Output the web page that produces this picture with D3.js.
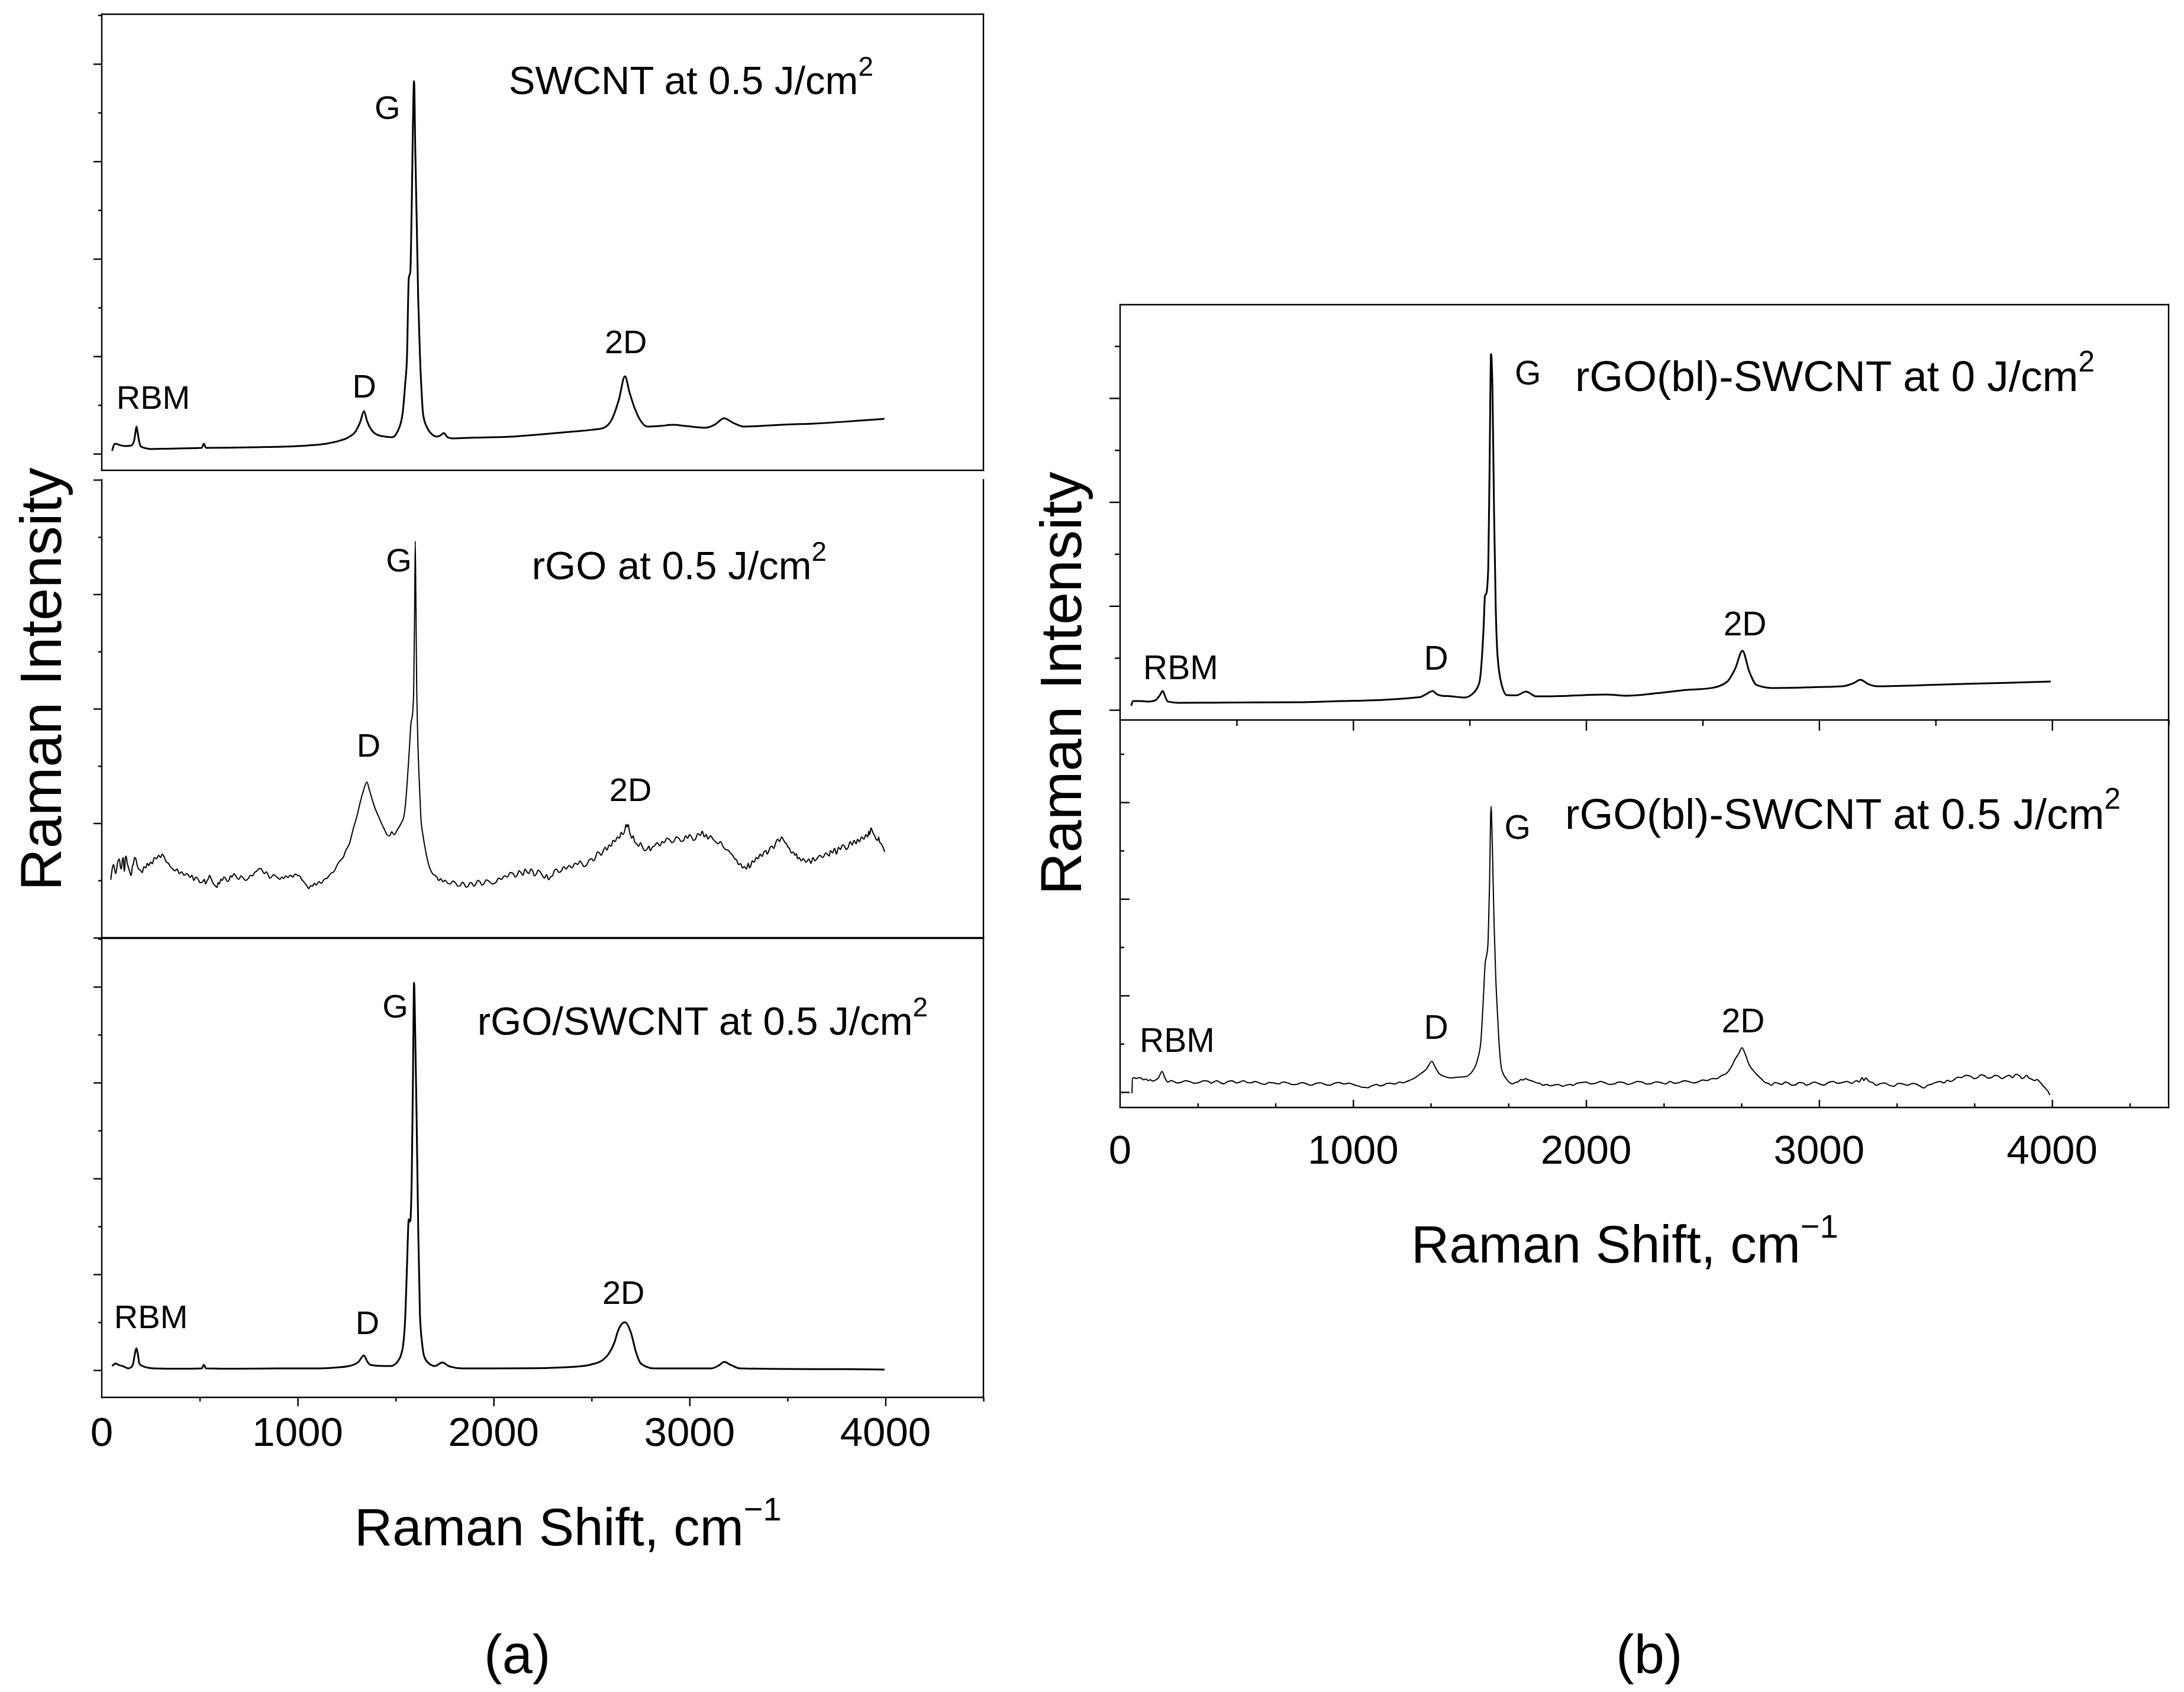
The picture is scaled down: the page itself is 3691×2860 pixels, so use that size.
<!DOCTYPE html>
<html>
<head>
<meta charset="utf-8">
<script src="https://cdn.jsdelivr.net/npm/d3@7"></script>
<style>
  body { margin: 0; background: #fff; }
  svg { display: block; }
  text { font-family: "Liberation Sans", Arial, sans-serif; fill: #000; }
</style>
</head>
<body>
<svg id="chart"></svg>
<script>
const W = 3691, H = 2860;

// spectra: [Raman shift (cm-1), intensity (a.u.)]
const swcnt = [[53,30],[60,80],[69,103],[90,90],[118,79],[151,85],[165,134],[172,220],[177,279],[183,220],[190,134],[200,73],[250,49],[330,52],[400,55],[510,61],[521,103],[532,61],[650,62],[789,67],[900,72],[1051,85],[1150,105],[1214,134],[1260,170],[1296,231],[1320,330],[1338,437],[1355,330],[1377,243],[1400,200],[1428,182],[1482,170],[1510,230],[1535,407],[1548,700],[1558,1008],[1567,1803],[1575,1864],[1581,2434],[1594,3824],[1600,3138],[1607,2434],[1615,1600],[1624,1008],[1632,650],[1640,407],[1660,270],[1679,212],[1710,176],[1730,190],[1745,212],[1765,170],[1787,158],[1900,165],[2098,176],[2250,200],[2424,231],[2500,245],[2555,261],[2600,340],[2640,560],[2670,795],[2695,620],[2720,467],[2750,340],[2784,279],[2850,285],[2917,297],[2980,285],[3080,267],[3130,300],[3176,364],[3220,320],[3276,279],[3400,290],[3500,300],[3635,310],[3800,330],[3900,345],[3995,358]];

const rgo = [[46,506],[53,600],[60,640],[66,590],[72,560],[80,650],[90,687],[95,620],[100,600],[105,680],[110,700],[113,610],[116,579],[120,690],[124,713],[130,650],[135,620],[142,580],[150,543],[156,620],[162,650],[168,700],[175,682],[181,630],[188,600],[197,590],[206,568],[215,620],[225,610],[232,650],[240,630],[249,660],[258,646],[268,700],[280,690],[290,720],[300,700],[308,730],[315,718],[322,690],[330,660],[340,650],[350,620],[362,600],[374,584],[385,600],[395,560],[408,575],[420,545],[435,560],[451,527],[460,545],[470,500],[480,530],[490,515],[503,480],[516,491],[523,510],[530,470],[538,500],[545,520],[550,545],[554,532],[562,500],[570,470],[579,455],[588,439],[594,480],[600,470],[608,510],[615,500],[623,530],[632,517],[641,490],[650,505],[657,540],[665,530],[674,560],[683,543],[691,520],[700,510],[710,540],[720,525],[734,500],[748,517],[759,545],[770,540],[780,570],[790,580],[800,600],[812,605],[821,580],[830,560],[840,575],[850,545],[857,520],[864,527],[877,550],[890,535],[900,520],[910,510],[919,530],[928,517],[939,540],[950,525],[962,545],[975,530],[987,555],[1000,545],[1011,537],[1020,510],[1030,490],[1044,460],[1057,429],[1066,455],[1075,450],[1085,475],[1095,460],[1108,490],[1121,475],[1135,510],[1150,520],[1168,560],[1186,579],[1203,640],[1220,680],[1232,700],[1245,760],[1263,817],[1285,960],[1302,1059],[1320,1190],[1335,1282],[1353,1359],[1366,1290],[1379,1214],[1395,1130],[1413,1059],[1430,990],[1444,941],[1456,900],[1469,889],[1480,925],[1492,900],[1508,941],[1525,990],[1542,1059],[1552,1200],[1560,1385],[1570,1650],[1578,1871],[1586,1950],[1592,2150],[1597,2900],[1600,3463],[1603,3000],[1607,2248],[1612,1800],[1618,1473],[1624,1230],[1629,1044],[1640,890],[1650,786],[1665,660],[1689,558],[1700,545],[1710,530],[1720,500],[1730,515],[1741,490],[1753,501],[1766,475],[1780,470],[1792,495],[1805,480],[1818,450],[1830,455],[1840,485],[1850,470],[1860,440],[1870,450],[1880,480],[1890,475],[1899,450],[1908,465],[1919,500],[1930,490],[1940,460],[1950,470],[1962,505],[1975,495],[1993,470],[2011,481],[2025,520],[2040,510],[2055,540],[2070,530],[2085,570],[2100,560],[2110,530],[2120,545],[2130,585],[2140,568],[2150,545],[2160,600],[2170,575],[2180,560],[2190,600],[2200,580],[2208,540],[2217,553],[2228,590],[2240,570],[2250,540],[2260,520],[2270,550],[2281,506],[2290,530],[2300,540],[2310,585],[2320,600],[2333,570],[2346,584],[2358,620],[2370,600],[2385,630],[2400,610],[2415,650],[2430,640],[2440,670],[2450,650],[2462,620],[2475,636],[2488,680],[2500,690],[2510,670],[2520,700],[2530,750],[2540,740],[2550,720],[2560,760],[2569,790],[2578,765],[2590,810],[2600,800],[2610,850],[2620,840],[2632,880],[2642,868],[2651,920],[2660,900],[2670,940],[2676,990],[2681,966],[2687,990],[2692,940],[2698,900],[2705,870],[2712,890],[2720,837],[2730,820],[2740,800],[2750,830],[2760,790],[2772,760],[2784,775],[2792,800],[2800,760],[2810,790],[2820,800],[2835,830],[2849,801],[2860,840],[2870,830],[2885,870],[2900,853],[2910,830],[2920,840],[2932,880],[2945,870],[2958,840],[2970,850],[2980,890],[2990,868],[3000,900],[3010,880],[3020,850],[3030,860],[3042,910],[3055,894],[3065,930],[3075,880],[3085,900],[3094,863],[3107,890],[3120,860],[3132,840],[3145,820],[3158,840],[3170,800],[3184,770],[3197,765],[3208,740],[3220,720],[3230,690],[3240,680],[3250,640],[3261,646],[3270,610],[3280,620],[3290,600],[3300,650],[3306,610],[3313,630],[3320,670],[3330,660],[3340,700],[3350,690],[3360,730],[3370,710],[3380,750],[3390,760],[3396,730],[3403,749],[3412,790],[3420,800],[3430,780],[3440,830],[3450,860],[3460,840],[3470,880],[3480,853],[3488,830],[3495,820],[3503,790],[3510,780],[3520,740],[3530,750],[3538,720],[3545,734],[3552,690],[3560,700],[3570,670],[3580,690],[3595,660],[3609,687],[3620,650],[3630,700],[3640,670],[3650,690],[3665,720],[3680,700],[3696,740],[3712,713],[3720,760],[3730,740],[3740,780],[3750,730],[3760,790],[3770,770],[3780,810],[3790,801],[3800,770],[3810,790],[3820,840],[3830,810],[3840,850],[3850,820],[3858,860],[3867,837],[3878,880],[3890,860],[3900,900],[3910,880],[3915,930],[3920,900],[3926,960],[3931,941],[3938,910],[3945,890],[3952,860],[3960,850],[3965,880],[3970,837],[3978,820],[3985,800],[3990,780],[3996,749]];

const rgoSwcnt = [[53,43],[70,70],[85,56],[110,40],[135,19],[150,30],[160,68],[170,180],[177,228],[184,170],[192,68],[207,43],[265,19],[400,15],[510,19],[521,56],[532,19],[700,15],[900,18],[1116,19],[1200,28],[1262,43],[1310,86],[1338,154],[1355,90],[1371,56],[1420,45],[1476,43],[1510,90],[1535,222],[1550,600],[1558,1093],[1567,1574],[1574,1550],[1582,2000],[1588,3000],[1594,4043],[1600,3494],[1607,2624],[1615,1500],[1624,580],[1635,280],[1646,142],[1670,70],[1700,43],[1739,80],[1770,43],[1836,19],[2000,18],[2200,20],[2424,37],[2500,60],[2560,110],[2588,173],[2615,280],[2638,426],[2670,500],[2703,377],[2725,200],[2752,68],[2817,19],[3000,18],[3112,19],[3150,50],[3177,86],[3210,55],[3258,19],[3500,12],[3800,10],[3995,6]];

const blend0 = [[48,40],[55,85],[90,85],[120,80],[150,91],[170,140],[183,182],[195,120],[205,80],[250,68],[400,70],[600,72],[764,74],[950,85],[1130,97],[1250,115],[1290,125],[1320,160],[1341,182],[1360,150],[1380,137],[1420,131],[1478,119],[1510,150],[1541,256],[1560,791],[1566,1100],[1572,1121],[1580,1366],[1586,2400],[1592,3425],[1598,3100],[1605,1895],[1612,1000],[1620,518],[1638,239],[1660,142],[1700,140],[1742,176],[1785,131],[1831,131],[2087,148],[2176,137],[2300,160],[2410,188],[2539,211],[2603,267],[2640,398],[2671,569],[2700,370],[2732,239],[2796,211],[3000,220],[3100,228],[3150,260],[3177,290],[3210,250],[3247,228],[3537,245],[3800,260],[3994,273]];

const blend05 = [[51,-12],[53,141],[60,150],[70,141],[80,150],[90,145],[100,128],[110,135],[120,120],[130,128],[140,115],[150,122],[165,150],[180,214],[192,150],[205,104],[218,120],[230,110],[245,95],[260,100],[280,118],[300,108],[320,92],[340,100],[360,118],[380,110],[390,92],[400,104],[415,118],[430,98],[445,86],[460,108],[480,118],[500,95],[515,105],[530,118],[545,100],[560,96],[580,110],[600,92],[620,80],[640,100],[660,95],[680,86],[700,104],[720,95],[740,78],[760,82],[780,98],[800,86],[820,70],[840,90],[860,96],[880,78],[900,70],[920,92],[940,100],[960,84],[980,92],[1000,80],[1012,70],[1025,62],[1038,50],[1050,49],[1062,45],[1075,60],[1088,72],[1100,80],[1115,65],[1130,72],[1145,90],[1160,92],[1180,84],[1200,104],[1215,96],[1230,110],[1245,125],[1260,140],[1275,165],[1290,190],[1315,240],[1338,318],[1350,270],[1370,190],[1395,160],[1420,147],[1450,155],[1480,159],[1510,210],[1534,337],[1548,520],[1560,1017],[1567,1341],[1572,1400],[1578,1506],[1585,2100],[1592,2958],[1598,2500],[1605,1751],[1612,1200],[1620,796],[1628,450],[1638,233],[1660,130],[1684,86],[1697,100],[1710,110],[1720,130],[1730,125],[1740,140],[1750,129],[1762,120],[1775,110],[1788,96],[1800,92],[1815,70],[1830,80],[1845,66],[1860,72],[1880,80],[1900,61],[1915,72],[1930,80],[1945,70],[1960,92],[1980,100],[2000,104],[2020,86],[2040,90],[2060,110],[2080,98],[2100,80],[2120,84],[2140,104],[2160,100],[2180,80],[2200,92],[2220,110],[2240,104],[2260,84],[2280,88],[2300,106],[2320,100],[2340,84],[2360,110],[2380,92],[2400,98],[2420,118],[2440,110],[2460,95],[2480,104],[2500,125],[2520,120],[2540,140],[2560,140],[2580,170],[2603,196],[2625,270],[2640,343],[2655,400],[2669,459],[2685,380],[2700,282],[2715,230],[2732,184],[2755,130],[2768,100],[2781,92],[2795,70],[2810,100],[2825,90],[2840,80],[2855,104],[2870,92],[2885,70],[2900,78],[2915,100],[2930,96],[2945,72],[2960,84],[2980,104],[3000,86],[3020,72],[3040,100],[3060,110],[3080,92],[3100,100],[3120,110],[3140,90],[3160,120],[3172,105],[3185,150],[3192,120],[3200,147],[3215,110],[3230,100],[3245,70],[3260,86],[3280,95],[3300,73],[3320,60],[3340,90],[3360,84],[3380,70],[3400,90],[3420,80],[3435,60],[3450,43],[3465,70],[3480,80],[3500,100],[3520,110],[3535,95],[3550,122],[3565,110],[3580,130],[3595,155],[3610,150],[3630,175],[3650,165],[3665,140],[3680,150],[3695,180],[3710,170],[3725,145],[3740,150],[3755,175],[3770,165],[3785,140],[3800,159],[3815,175],[3830,150],[3845,185],[3860,170],[3870,140],[3880,150],[3890,175],[3900,147],[3912,135],[3925,120],[3935,130],[3945,110],[3953,90],[3960,67],[3968,50],[3975,30],[3982,10],[3990,-31]];

const sampleNames = ["SWCNT at 0.5 J/cm", "rGO at 0.5 J/cm", "rGO/SWCNT at 0.5 J/cm",
                     "rGO(bl)-SWCNT at 0 J/cm", "rGO(bl)-SWCNT at 0.5 J/cm"];
const peakNames = ["RBM", "D", "G", "2D"];
const xTickLabels = [0, 1000, 2000, 3000, 4000];

const svg = d3.select("#chart").attr("width", W).attr("height", H);
svg.append("rect").attr("width", W).attr("height", H).attr("fill", "#fff");

// layout of the five stacked frames
const panels = [
  { data: swcnt, title: 0, xr: [172, 1662], yr: [795, 24], yDomain: [-170, 4510],
    frame: ["top", "right", "bottom", "left"], yIn: false, yLen: [14, 6], lw: 3,
    titleAt: [2077, 3691], titleSize: 67, peakSize: 56,
    peaks: { RBM: [75, 461], D: [1340, 577], G: [1458, 3436], "2D": [2675, 1032] } },
  { data: rgo, title: 1, xr: [172, 1662], yr: [1585, 811], yDomain: [0, 4000],
    frame: ["right", "bottom", "left"], yIn: false, yLen: [14, 6], lw: 2,
    titleAt: [2195, 3132], titleSize: 67, peakSize: 56,
    peaks: { D: [1362, 1581], G: [1516, 3199], "2D": [2699, 1194] } },
  { data: rgoSwcnt, title: 2, xr: [172, 1662], yr: [2362, 1586], yDomain: [-284, 4506],
    frame: ["top", "right", "bottom", "left"], yIn: false, yLen: [14, 6], lw: 3,
    titleAt: [1917, 3500], titleSize: 67, peakSize: 56,
    peaks: { RBM: [63, 438], D: [1356, 377], G: [1498, 3679], "2D": [2663, 691] },
    xt: { inward: false, step: 500, len: [15, 7], labelGap: 82 } },
  { data: blend0, title: 3, xr: [1893, 3665], yr: [1217, 515], yDomain: [-97, 3899],
    frame: ["top", "right", "bottom", "left"], yIn: false, yLen: [18, 9], lw: 3,
    titleAt: [1953, 3067], titleSize: 73, peakSize: 57,
    peaks: { RBM: [99, 296], D: [1356, 387], G: [1750, 3130], "2D": [2682, 717] },
    xt: { inward: false, step: 500, len: [18, 10], labelGap: null } },
  { data: blend05, title: 4, xr: [1893, 3665], yr: [1872, 1217], yDomain: [-159, 3852],
    frame: ["right", "bottom", "left"], yIn: true, yLen: [16, 7], lw: 2,
    titleAt: [1910, 2725], titleSize: 73, peakSize: 57,
    peaks: { RBM: [84, 416], D: [1356, 551], G: [1706, 2621], "2D": [2674, 619] },
    xt: { inward: true, step: 1000 / 3, len: [13, 7], labelGap: 95 } }
];

const isMajor = v => Math.abs(v / 1000 - Math.round(v / 1000)) < 1e-6;

function drawPanel(p) {
  const x = d3.scaleLinear().domain([0, 4500]).range(p.xr);
  const y = d3.scaleLinear().domain(p.yDomain).range(p.yr);
  const g = svg.append("g");

  const sides = {
    top: [p.xr[0], p.yr[1], p.xr[1], p.yr[1]],
    bottom: [p.xr[0], p.yr[0], p.xr[1], p.yr[0]],
    left: [p.xr[0], p.yr[1], p.xr[0], p.yr[0]],
    right: [p.xr[1], p.yr[1], p.xr[1], p.yr[0]]
  };
  p.frame.forEach(s => {
    const [x1, y1, x2, y2] = sides[s];
    g.append("line").attr("x1", x1).attr("y1", y1).attr("x2", x2).attr("y2", y2)
      .attr("stroke", "#000").attr("stroke-width", 2.4).attr("stroke-linecap", "square");
  });

  // y ticks (no labels)
  const yVals = d3.range(0, p.yDomain[1] + 1, 500);
  [true, false].forEach(major => {
    const vals = yVals.filter(v => isMajor(v) === major);
    const ax = (p.yIn ? d3.axisRight(y) : d3.axisLeft(y))
      .tickValues(vals).tickSize(major ? p.yLen[0] : p.yLen[1]).tickFormat("");
    g.append("g").attr("transform", `translate(${p.xr[0]},0)`).call(ax)
      .call(s => s.select(".domain").remove())
      .selectAll("line").attr("stroke", "#000").attr("stroke-width", 2.4);
  });

  // x ticks
  if (p.xt) {
    const n = Math.floor(4500 / p.xt.step + 1e-6);
    const xVals = d3.range(1, n + 1).map(i => i * p.xt.step);
    [true, false].forEach(major => {
      const vals = xVals.filter(v => isMajor(v) === major);
      const ax = (p.xt.inward ? d3.axisTop(x) : d3.axisBottom(x))
        .tickValues(vals).tickSize(major ? p.xt.len[0] : p.xt.len[1]).tickFormat("");
      g.append("g").attr("transform", `translate(0,${p.yr[0]})`).call(ax)
        .call(s => s.select(".domain").remove())
        .selectAll("line").attr("stroke", "#000").attr("stroke-width", 2.4);
    });
    if (p.xt.labelGap) {
      g.selectAll(null).data(xTickLabels).join("text")
        .attr("x", d => x(d)).attr("y", p.yr[0] + p.xt.labelGap)
        .attr("text-anchor", "middle").attr("font-size", 69).text(d => d);
    }
  }

  const line = d3.line().x(d => x(d[0])).y(d => y(d[1])).curve(d3.curveMonotoneX);
  g.append("path").datum(p.data).attr("d", line)
    .attr("fill", "none").attr("stroke", "#000").attr("stroke-width", p.lw)
    .attr("stroke-linejoin", "round");

  // sample name with superscript
  const t = g.append("text").attr("x", x(p.titleAt[0])).attr("y", y(p.titleAt[1]))
    .attr("font-size", p.titleSize).text(sampleNames[p.title]);
  t.append("tspan").attr("font-size", p.titleSize * 0.68).attr("dy", -p.titleSize * 0.46).text("2");

  // peak names
  peakNames.filter(k => p.peaks[k]).forEach(k => {
    const [px, py] = p.peaks[k];
    g.append("text").attr("x", x(px)).attr("y", y(py))
      .attr("text-anchor", k === "RBM" ? "start" : "middle")
      .attr("font-size", p.peakSize).text(k);
  });
}

panels.forEach(drawPanel);

// axis titles
[[599, 2612], [2385, 2134]].forEach(([tx, ty]) => {
  const t = svg.append("text").attr("x", tx).attr("y", ty).attr("font-size", 89).text("Raman Shift, cm");
  t.append("tspan").attr("font-size", 56).attr("dy", -42).text("\u22121");
});
[[103, 1148], [1827, 1155]].forEach(([tx, ty]) => {
  svg.append("text").attr("transform", `translate(${tx},${ty}) rotate(-90)`)
    .attr("text-anchor", "middle").attr("font-size", 99).text("Raman Intensity");
});
[["(a)", 818], ["(b)", 2731]].forEach(([s, tx]) => {
  svg.append("text").attr("x", tx).attr("y", 2828).attr("font-size", 92).text(s);
});
</script>
</body>
</html>
